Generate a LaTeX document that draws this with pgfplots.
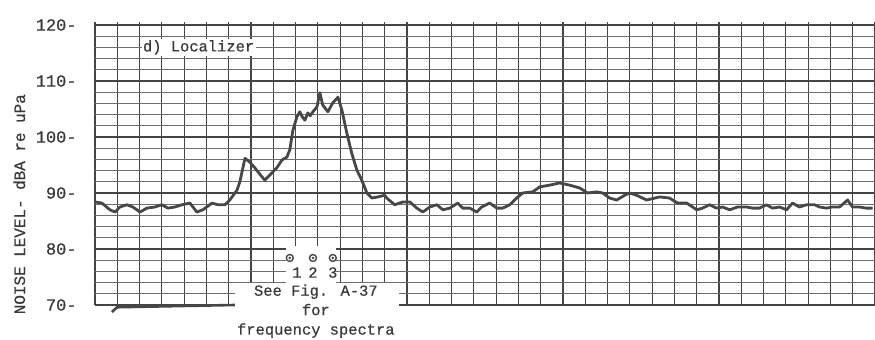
\documentclass[border=0pt]{standalone}
\usepackage{fontspec}
\setmainfont{Liberation Mono}[FakeBold=0.6]
\usepackage{pgfplots}
\pgfplotsset{compat=1.18}

\definecolor{paperline}{HTML}{444444}
\definecolor{paperfine}{HTML}{6E6E6E}
\definecolor{pen}{HTML}{474747}
\definecolor{ink}{HTML}{3A3A3A}

\begin{document}
\begin{tikzpicture}
\begin{axis}[
  at={(95bp,35bp)}, anchor=south west,
  scale only axis, width=780bp, height=280bp,
  xmin=0, xmax=35, ymin=70, ymax=120,
  clip=false,
  axis line style={draw=none},
  xtick={0,...,35}, xticklabels={},
  xtick pos=upper, tick align=outside,
  major tick length=3bp, minor tick length=0bp,
  xtick style={paperline, line width=1.1bp},
  ytick={70,80,...,120},
  minor ytick={72,74,...,118},
  ytick style={draw=none},
  grid=both,
  major grid style={paperline, line width=1.1bp},
  minor grid style={paperfine, line width=0.85bp},
  font=\fontsize{15.5}{18}\selectfont\color{ink},
  /pgf/number format/assume math mode=true,
  yticklabel={\pgfmathprintnumber{\tick}-},
  yticklabel style={anchor=east, xshift=-12bp, font=\fontsize{17}{20}\selectfont\color{ink}},
]

% paper left blank where the annotations were typed
\fill[white] (axis cs:8.55,80.6) rectangle (axis cs:10.8,73.9);
\fill[white] (axis cs:6.3,73.9) rectangle (axis cs:13.65,62);

% level trace
\addplot[pen, line width=2.8bp, line join=round] coordinates {
(0.00,88.4) (0.31,88.2) (0.67,87.0) (0.90,86.6) (1.12,87.5) (1.43,87.9)
(1.70,87.5) (2.02,86.6) (2.33,87.3) (2.69,87.5) (3.00,87.9) (3.27,87.3)
(3.59,87.5) (3.90,87.9) (4.26,88.2) (4.57,86.6) (4.84,87.0) (5.25,88.2)
(5.52,87.9) (5.83,87.9) (6.05,88.75) (6.37,90.5) (6.50,92.0) (6.73,96.2)
(6.95,95.5) (7.17,94.5) (7.49,92.9) (7.62,92.3) (7.94,93.6) (8.16,94.5)
(8.39,95.9) (8.61,96.4) (8.74,97.7) (8.88,101.2) (9.06,103.6) (9.19,104.5)
(9.30,103.6) (9.42,103.0) (9.55,104.3) (9.66,103.8) (9.78,104.5) (9.96,105.4)
(10.09,107.9) (10.22,105.7) (10.45,104.5) (10.67,106.1) (10.90,107.1) (11.08,104.8)
(11.30,100.7) (11.52,97.1) (11.75,94.1) (11.97,92.3) (12.20,90.0) (12.42,89.1)
(12.69,89.3) (13.00,89.6) (13.09,89.1) (13.45,87.9) (13.81,88.4) (14.13,88.4)
(14.44,87.3) (14.71,86.6) (15.02,87.5) (15.34,87.9) (15.61,87.0) (15.92,87.3)
(16.28,88.2) (16.50,87.3) (16.82,87.3) (17.13,86.6) (17.35,87.5) (17.71,88.2)
(18.03,87.3) (18.30,87.3) (18.61,87.9) (18.92,89.1) (19.19,90.0) (19.64,90.2)
(19.96,91.1) (20.40,91.4) (20.85,91.8) (21.30,91.4) (21.75,90.9) (22.11,90.0)
(22.51,90.2) (22.78,90.0) (23.09,89.1) (23.41,88.75) (23.77,89.6) (23.99,90.0)
(24.30,89.6) (24.75,88.75) (25.34,89.3) (25.78,89.1) (26.14,88.2) (26.55,88.2)
(27.00,87.0) (27.26,87.3) (27.58,87.9) (27.89,87.3) (28.16,87.5) (28.48,87.0)
(28.83,87.5) (29.24,87.5) (29.51,87.3) (29.82,87.3) (30.13,87.9) (30.40,87.3)
(30.72,87.5) (31.03,87.0) (31.30,88.2) (31.61,87.5) (31.93,87.9) (32.29,87.9)
(32.51,87.5) (32.83,87.3) (33.09,87.5) (33.41,87.5) (33.77,88.75) (33.99,87.5)
(34.30,87.5) (34.62,87.3) (34.89,87.3)
};

% pen resting at the bottom of the scale
\addplot[pen, line width=2.6bp] coordinates {(0.76,68.75) (0.99,69.6) (6.28,70.0)};

% spectrum sample positions
\addplot[only marks, mark=o, mark size=3.5bp, pen, line width=1.4bp]
  coordinates {(8.74,78.4) (9.78,78.4) (10.67,78.4)};
\addplot[only marks, mark=*, mark size=1.1bp, pen]
  coordinates {(8.74,78.4) (9.78,78.4) (10.67,78.4)};

\node[ink] at (axis cs:9.06,75.8) {1};
\node[ink] at (axis cs:9.78,75.8) {2};
\node[ink] at (axis cs:10.67,75.8) {3};

\node[ink, align=center, font=\fontsize{15.5}{19.5}\selectfont]
  at (axis cs:9.91,68.9) {See Fig. A-37\\for\\frequency spectra};

\node[ink, fill=white, inner sep=1.5bp] at (axis cs:4.65,116.0) {d) Localizer};

\node[ink, rotate=90, font=\fontsize{16}{19}\selectfont]
  at (axis description cs:-0.097,0.36) {NOISE LEVEL- dBA re uPa};
\end{axis}
\pgfresetboundingbox
\path[use as bounding box] (0,0) rectangle (875bp,340bp);
\end{tikzpicture}
\end{document}
